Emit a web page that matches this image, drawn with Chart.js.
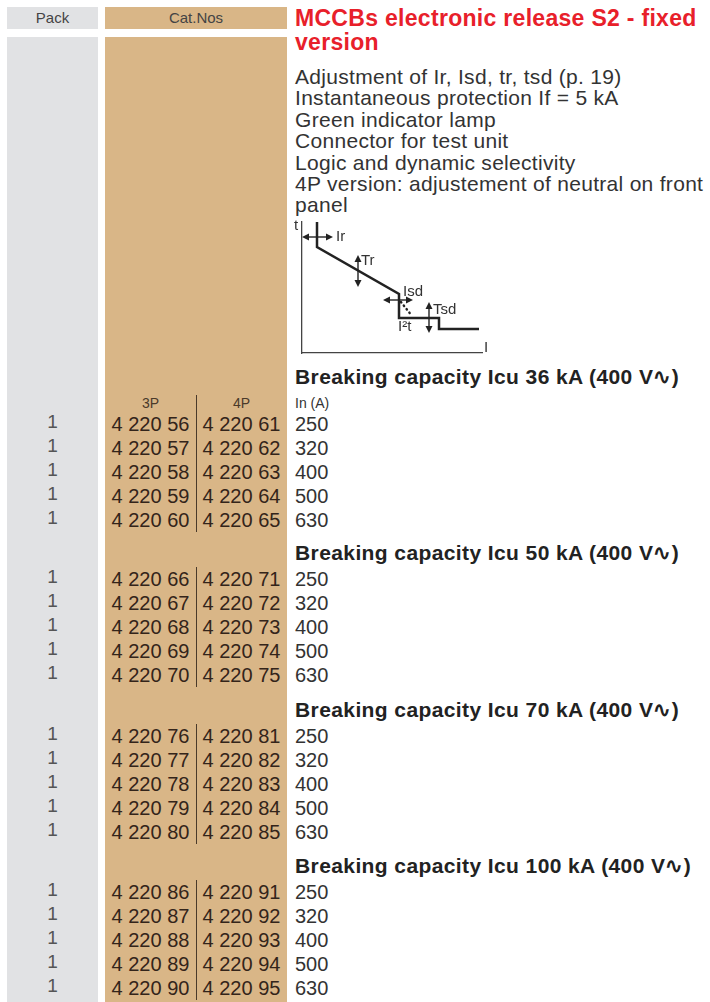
<!DOCTYPE html>
<html lang="en">
<head>
  <meta charset="UTF-8">
  <title>MCCBs electronic release S2 - fixed version</title>
  <style>
    body {
      margin: 0;
      width: 710px;
      height: 1002px;
      position: relative;
      overflow: hidden;
      background: #ffffff;
      font-family: "Liberation Sans", Arial, sans-serif;
      color: #333;
    }
    .abs { position: absolute; white-space: nowrap; }
    .col-pack { background: #e1e2e4; left: 7px; width: 91px; }
    .col-cat { background: #d9b687; left: 105px; width: 182px; }
    .head { top: 7px; height: 22px; font-size: 15px; line-height: 22px; text-align: center; color: #444; }
    .body-col { top: 37px; height: 965px; }
    #title {
      left: 295px; top: 6px;
      font-size: 23px; font-weight: bold; line-height: 24px;
      letter-spacing: 0.3px;
      color: #e8202a;
    }
    #desc {
      left: 295px; top: 66px;
      font-size: 21px; line-height: 21.4px; letter-spacing: 0.3px;
      color: #333;
    }
    .sec { left: 295px; font-size: 21px; font-weight: bold; color: #222; letter-spacing: 0.4px; }
    .txt { font-size: 20px; line-height: 24px; }
    .pack { left: 7px; width: 91px; text-align: center; color: #555; font-size: 19px; }
    .c3 { left: 108px; width: 85px; text-align: center; color: #33241a; }
    .c4 { left: 199px; width: 85px; text-align: center; color: #33241a; }
    .amp { left: 295px; color: #333; }
    .sep { left: 196px; width: 1px; background: #4a3a2a; }
    .small { font-size: 14px; line-height: 16px; }
    #diagram { position: absolute; left: 290px; top: 212px; }
  </style>
  <script src="https://cdn.jsdelivr.net/npm/chart.js"></script>
</head>
<body>
  <div class="abs col-pack head">Pack</div>
  <div class="abs col-cat head">Cat.Nos</div>
  <div class="abs col-pack body-col"></div>
  <div class="abs col-cat body-col"></div>

  <div class="abs" id="title">MCCBs electronic release S2 - fixed<br>version</div>
  <div class="abs" id="desc"></div>

  <canvas id="diagram" width="205" height="148"></canvas>

  <div id="rows"></div>

  <script>
    // texts
    const descLines = [
      'Adjustment of Ir, Isd, tr, tsd (p. 19)',
      'Instantaneous protection If = 5 kA',
      'Green indicator lamp',
      'Connector for test unit',
      'Logic and dynamic selectivity',
      '4P version: adjustement of neutral on front',
      'panel'
    ];

    // table data
    const capacities = [36, 50, 70, 100];          // kA
    const ratings = [250, 320, 400, 500, 630];     // In (A)
    const packQty = [1, 1, 1, 1, 1];
    const catNos3P = [
      ['4 220 56', '4 220 57', '4 220 58', '4 220 59', '4 220 60'],
      ['4 220 66', '4 220 67', '4 220 68', '4 220 69', '4 220 70'],
      ['4 220 76', '4 220 77', '4 220 78', '4 220 79', '4 220 80'],
      ['4 220 86', '4 220 87', '4 220 88', '4 220 89', '4 220 90']
    ];
    const catNos4P = [
      ['4 220 61', '4 220 62', '4 220 63', '4 220 64', '4 220 65'],
      ['4 220 71', '4 220 72', '4 220 73', '4 220 74', '4 220 75'],
      ['4 220 81', '4 220 82', '4 220 83', '4 220 84', '4 220 85'],
      ['4 220 91', '4 220 92', '4 220 93', '4 220 94', '4 220 95']
    ];

    // trip curve (t vs I, arbitrary units)
    const curveI = [15, 15, 97, 97, 137, 137, 177];
    const curveT = [131, 106, 59, 35, 35, 24, 24];
    const i2tI = [99, 110];
    const i2tT = [51, 37];
    // double arrows: [I1, t1, I2, t2]
    const arrows = [
      [0, 116, 31, 116],    // Ir
      [56, 98, 56, 66],     // Tr
      [81, 53, 111, 53],    // Isd
      [127, 51, 127, 20]    // Tsd
    ];
    const labelText = ['Ir', 'Tr', 'Isd', 'Tsd', 'I²t', 't', 'I'];
    const labelI = [34, 59, 101, 131, 96, -8, 182];
    const labelT = [116, 92, 61, 43, 26, 127, 5];

    document.getElementById('desc').innerHTML = descLines.join('<br>');

    // ---- table ----
    const rowsDiv = document.getElementById('rows');
    const secTop = [368, 544, 701, 857];
    let html = '';
    capacities.forEach((cap, s) => {
      const top = secTop[s];
      html += `<div class="abs sec" style="top:${top - 3}px">Breaking capacity Icu ${cap} kA (400 V∿)</div>`;
      let firstRow = top + 23;
      if (s === 0) {
        html += `<div class="abs small c3" style="top:${top + 27}px;color:#4a3a2a">3P</div>`;
        html += `<div class="abs small c4" style="top:${top + 27}px;color:#4a3a2a">4P</div>`;
        html += `<div class="abs small amp" style="top:${top + 27}px">In (A)</div>`;
        firstRow = top + 44;
      }
      const sepTop = s === 0 ? top + 27 : firstRow;
      html += `<div class="abs sep" style="top:${sepTop}px;height:${firstRow + 120 - sepTop}px"></div>`;
      ratings.forEach((r, i) => {
        const y = firstRow + i * 24;
        html += `<div class="abs txt pack" style="top:${y - 2}px">${packQty[i]}</div>`;
        html += `<div class="abs txt c3" style="top:${y}px">${catNos3P[s][i]}</div>`;
        html += `<div class="abs txt c4" style="top:${y}px">${catNos4P[s][i]}</div>`;
        html += `<div class="abs txt amp" style="top:${y}px">${r}</div>`;
      });
    });
    rowsDiv.innerHTML = html;

    // ---- trip curve with Chart.js ----
    const arrowsPlugin = {
      id: 'arrowsPlugin',
      afterDatasetsDraw(chart) {
        const { ctx, scales: { x, y } } = chart;
        ctx.save();
        ctx.strokeStyle = '#222';
        ctx.fillStyle = '#222';
        ctx.lineWidth = 1.4;
        const head = (px, py, dx, dy) => {
          const len = 7, w = 3.5;
          ctx.beginPath();
          ctx.moveTo(px, py);
          ctx.lineTo(px - dx * len - dy * w, py - dy * len + dx * w);
          ctx.lineTo(px - dx * len + dy * w, py - dy * len - dx * w);
          ctx.closePath();
          ctx.fill();
        };
        arrows.forEach(a => {
          const x1 = x.getPixelForValue(a[0]), y1 = y.getPixelForValue(a[1]);
          const x2 = x.getPixelForValue(a[2]), y2 = y.getPixelForValue(a[3]);
          const d = Math.hypot(x2 - x1, y2 - y1);
          const dx = (x2 - x1) / d, dy = (y2 - y1) / d;
          ctx.beginPath();
          ctx.moveTo(x1 + dx * 4, y1 + dy * 4);
          ctx.lineTo(x2 - dx * 4, y2 - dy * 4);
          ctx.stroke();
          head(x2, y2, dx, dy);
          head(x1, y1, -dx, -dy);
        });
        ctx.font = '15px "Liberation Sans", Arial, sans-serif';
        ctx.fillStyle = '#333';
        ctx.textBaseline = 'middle';
        labelText.forEach((t, i) => {
          ctx.fillText(t, x.getPixelForValue(labelI[i]), y.getPixelForValue(labelT[i]));
        });
        ctx.restore();
      }
    };

    new Chart(document.getElementById('diagram'), {
      type: 'scatter',
      data: {
        datasets: [
          {
            data: curveI.map((v, i) => ({ x: v, y: curveT[i] })),
            showLine: true,
            borderColor: '#222',
            borderWidth: 2.5,
            pointRadius: 0,
            tension: 0
          },
          {
            data: i2tI.map((v, i) => ({ x: v, y: i2tT[i] })),
            showLine: true,
            borderColor: '#222',
            borderWidth: 2.4,
            borderDash: [0.5, 4],
            borderCapStyle: 'round',
            pointRadius: 0
          }
        ]
      },
      options: {
        responsive: false,
        animation: false,
        events: [],
        layout: { padding: { left: 12, right: 13, top: 10, bottom: 7 } },
        plugins: { legend: { display: false }, tooltip: { enabled: false } },
        scales: {
          x: {
            type: 'linear', min: 0, max: 180,
            grid: { display: false, drawTicks: false },
            ticks: { display: false },
            border: { color: '#444', width: 1.3 }
          },
          y: {
            type: 'linear', min: 0, max: 131,
            grid: { display: false, drawTicks: false },
            ticks: { display: false },
            border: { color: '#444', width: 1.3 }
          }
        }
      },
      plugins: [arrowsPlugin]
    });
  </script>
</body>
</html>
